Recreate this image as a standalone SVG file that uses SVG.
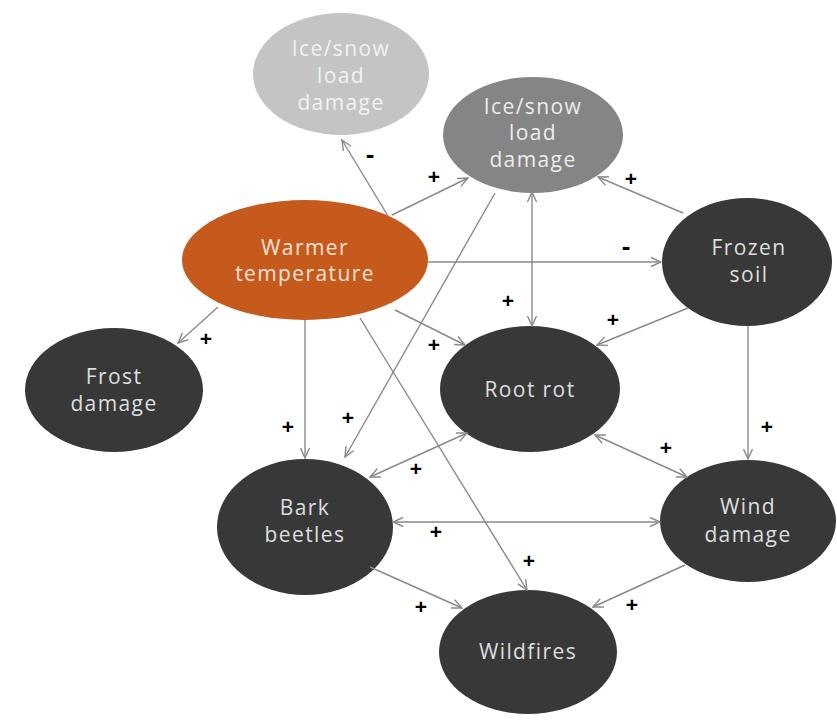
<svg xmlns="http://www.w3.org/2000/svg" width="837" height="721" viewBox="0 0 837 721">
<style>
.lbl{font-family:"Open Sans","Liberation Sans",sans-serif;font-size:21px;letter-spacing:1.4px;text-anchor:middle;}
.dark ellipse{fill:#383838;}
.dark text{fill:#dedede;}
.edge{stroke:#8a8a8a;stroke-width:1.4;fill:none;marker-end:url(#ah);}
.bi{marker-start:url(#ah);}
.sign{font-family:"Liberation Sans",sans-serif;font-size:21px;font-weight:bold;fill:#000;text-anchor:middle;}
.minus{font-size:26px;}
</style>
<defs>
<marker id="ah" viewBox="0 0 12 12" refX="11" refY="6" markerWidth="12" markerHeight="12" markerUnits="userSpaceOnUse" orient="auto-start-reverse">
<path d="M1,1.5 L11,6 L1,10.5" fill="none" stroke="#8a8a8a" stroke-width="1.4"/>
</marker>
</defs>
<rect width="837" height="721" fill="#fff"/>
<g id="ice-light">
<ellipse cx="341" cy="74" rx="88" ry="61" fill="#c4c4c4"/>
<text class="lbl" fill="#f2f2f2"><tspan x="341" y="56">Ice/snow</tspan><tspan x="341" y="83">load</tspan><tspan x="341" y="110">damage</tspan></text>
</g>
<g id="ice-medium">
<ellipse cx="533" cy="135" rx="90" ry="58" fill="#858585"/>
<text class="lbl" fill="#ececec"><tspan x="533" y="114">Ice/snow</tspan><tspan x="533" y="140">load</tspan><tspan x="533" y="167">damage</tspan></text>
</g>
<g id="warmer">
<ellipse cx="305" cy="260" rx="123" ry="60" fill="#c55a1c"/>
<text class="lbl" fill="#f6e3d6"><tspan x="305" y="255">Warmer</tspan><tspan x="305" y="281">temperature</tspan></text>
</g>
<g id="frozen" class="dark">
<ellipse cx="747" cy="262" rx="85" ry="64"/>
<text class="lbl"><tspan x="749" y="255">Frozen</tspan><tspan x="749" y="282">soil</tspan></text>
</g>
<g id="frost" class="dark">
<ellipse cx="114" cy="390" rx="89" ry="62"/>
<text class="lbl"><tspan x="114" y="384">Frost</tspan><tspan x="114" y="411">damage</tspan></text>
</g>
<g id="rootrot" class="dark">
<ellipse cx="530" cy="389" rx="90" ry="63"/>
<text class="lbl" x="530" y="397">Root rot</text>
</g>
<g id="bark" class="dark">
<ellipse cx="305" cy="527" rx="88" ry="68"/>
<text class="lbl"><tspan x="305" y="515">Bark</tspan><tspan x="305" y="542">beetles</tspan></text>
</g>
<g id="wind" class="dark">
<ellipse cx="748" cy="521" rx="88" ry="61"/>
<text class="lbl"><tspan x="748" y="514">Wind</tspan><tspan x="748" y="542">damage</tspan></text>
</g>
<g id="wildfires" class="dark">
<ellipse cx="528" cy="652" rx="89" ry="62"/>
<text class="lbl" x="528" y="659">Wildfires</text>
</g>
<g id="connectors">
<line class="edge" x1="388" y1="216" x2="342" y2="140"/>
<line class="edge" x1="392" y1="215" x2="468" y2="178"/>
<line class="edge" x1="495" y1="193" x2="345" y2="457"/>
<line class="edge bi" x1="532" y1="192" x2="532" y2="326"/>
<line class="edge" x1="683" y1="213" x2="598" y2="177"/>
<line class="edge" x1="428" y1="262" x2="661" y2="262"/>
<line class="edge" x1="688" y1="308" x2="597" y2="345"/>
<line class="edge" x1="395" y1="310" x2="465" y2="345"/>
<line class="edge" x1="218" y1="307" x2="178" y2="343"/>
<line class="edge" x1="305" y1="320" x2="305" y2="458"/>
<line class="edge" x1="360" y1="318" x2="527" y2="590"/>
<line class="edge bi" x1="370" y1="477" x2="467" y2="433"/>
<line class="edge" x1="748" y1="326" x2="748" y2="459"/>
<line class="edge bi" x1="595" y1="435" x2="687" y2="477"/>
<line class="edge bi" x1="393" y1="522" x2="660" y2="522"/>
<line class="edge" x1="370" y1="567" x2="462" y2="608"/>
<line class="edge" x1="685" y1="565" x2="593" y2="607"/>
<text class="sign minus" x="370" y="163">-</text>
<text class="sign" x="434" y="184">+</text>
<text class="sign" x="348" y="425">+</text>
<text class="sign" x="508" y="308">+</text>
<text class="sign" x="631" y="186">+</text>
<text class="sign minus" x="626" y="255">-</text>
<text class="sign" x="613" y="327">+</text>
<text class="sign" x="434" y="352">+</text>
<text class="sign" x="206" y="346">+</text>
<text class="sign" x="288" y="434">+</text>
<text class="sign" x="529" y="568">+</text>
<text class="sign" x="416" y="476">+</text>
<text class="sign" x="767" y="434">+</text>
<text class="sign" x="666" y="455">+</text>
<text class="sign" x="436" y="539">+</text>
<text class="sign" x="421" y="614">+</text>
<text class="sign" x="632" y="612">+</text>
</g>
</svg>
